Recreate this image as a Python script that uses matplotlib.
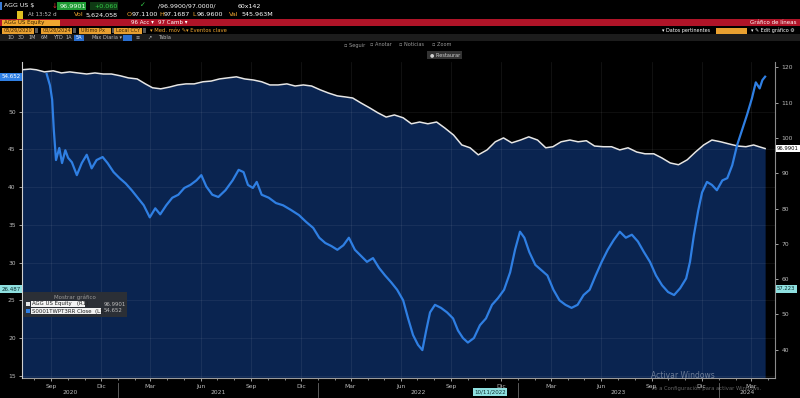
import matplotlib
matplotlib.use("Agg")
import matplotlib.pyplot as plt
import matplotlib.dates as mdates
from matplotlib.patches import Rectangle
from matplotlib.ticker import FuncFormatter
import pandas as pd

# AGG US Equity, right axis (R1)
agg_dates = [
    "2020-07-10", "2020-07-25", "2020-08-05", "2020-08-20", "2020-09-05", "2020-09-20",
    "2020-10-05", "2020-10-20", "2020-11-05", "2020-11-20", "2020-12-05", "2020-12-20",
    "2021-01-05", "2021-01-20", "2021-02-05", "2021-02-20", "2021-03-05", "2021-03-20",
    "2021-04-05", "2021-04-20", "2021-05-05", "2021-05-20", "2021-06-05", "2021-06-20",
    "2021-07-05", "2021-07-20", "2021-08-05", "2021-08-20", "2021-09-05", "2021-09-20",
    "2021-10-05", "2021-10-20", "2021-11-05", "2021-11-20", "2021-12-05", "2021-12-20",
    "2022-01-05", "2022-01-20", "2022-02-05", "2022-02-20", "2022-03-05", "2022-03-20",
    "2022-04-05", "2022-04-20", "2022-05-05", "2022-05-20", "2022-06-05", "2022-06-20",
    "2022-07-05", "2022-07-20", "2022-08-05", "2022-08-20", "2022-09-05", "2022-09-20",
    "2022-10-05", "2022-10-20", "2022-11-05", "2022-11-20", "2022-12-05", "2022-12-20",
    "2023-01-05", "2023-01-20", "2023-02-05", "2023-02-20", "2023-03-05", "2023-03-20",
    "2023-04-05", "2023-04-20", "2023-05-05", "2023-05-20", "2023-06-05", "2023-06-20",
    "2023-07-05", "2023-07-20", "2023-08-05", "2023-08-20", "2023-09-05", "2023-09-20",
    "2023-10-05", "2023-10-20", "2023-11-05", "2023-11-20", "2023-12-05", "2023-12-20",
    "2024-01-05", "2024-01-20", "2024-02-05", "2024-02-20", "2024-03-05", "2024-03-15",
    "2024-03-26",
]
agg_close = [
    119.3, 119.5, 119.3, 118.7, 119.0, 118.4,
    118.7, 118.4, 118.1, 118.4, 118.1, 118.1,
    117.6, 117.0, 116.7, 115.3, 114.2, 113.9,
    114.4, 115.0, 115.3, 115.3, 115.9, 116.1,
    116.7, 117.0, 117.3, 116.7, 116.4, 115.9,
    115.0, 115.0, 115.3, 114.7, 115.0, 114.7,
    113.6, 112.7, 111.9, 111.6, 111.3, 109.9,
    108.5, 107.1, 105.9, 106.5, 105.7, 104.0,
    104.5, 104.0, 104.5, 102.8, 100.8, 98.0,
    97.2, 95.2, 96.6, 98.9, 100.0, 98.6,
    99.4, 100.3, 99.4, 97.2, 97.5, 98.9,
    99.4, 98.9, 99.2, 97.7, 97.5, 97.5,
    96.6, 97.2, 96.0, 95.5, 95.5, 94.3,
    92.9, 92.4, 93.8, 96.0, 98.0, 99.4,
    98.9, 98.3, 97.7, 97.5, 98.0, 97.5,
    96.9901,
]

# Second series, left axis (L1)
l1_dates = [
    "2020-08-24", "2020-08-30", "2020-09-03", "2020-09-06", "2020-09-10", "2020-09-16",
    "2020-09-21", "2020-09-27", "2020-10-02", "2020-10-09", "2020-10-18", "2020-10-27",
    "2020-11-05", "2020-11-14", "2020-11-23", "2020-12-04", "2020-12-13", "2020-12-24",
    "2021-01-04", "2021-01-15", "2021-01-26", "2021-02-06", "2021-02-17", "2021-02-28",
    "2021-03-10", "2021-03-19", "2021-03-30", "2021-04-10", "2021-04-21", "2021-05-02",
    "2021-05-13", "2021-05-24", "2021-06-02", "2021-06-11", "2021-06-22", "2021-07-03",
    "2021-07-16", "2021-07-29", "2021-08-09", "2021-08-18", "2021-08-26", "2021-09-04",
    "2021-09-11", "2021-09-20", "2021-10-03", "2021-10-16", "2021-10-29", "2021-11-12",
    "2021-11-27", "2021-12-10", "2021-12-23", "2022-01-03", "2022-01-14", "2022-01-25",
    "2022-02-05", "2022-02-16", "2022-02-26", "2022-03-09", "2022-03-20", "2022-03-31",
    "2022-04-11", "2022-04-22", "2022-05-03", "2022-05-14", "2022-05-25", "2022-06-05",
    "2022-06-14", "2022-06-23", "2022-07-02", "2022-07-10", "2022-07-17", "2022-07-24",
    "2022-08-02", "2022-08-13", "2022-08-24", "2022-09-04", "2022-09-13", "2022-09-22",
    "2022-10-01", "2022-10-12", "2022-10-23", "2022-11-03", "2022-11-14", "2022-11-25",
    "2022-12-06", "2022-12-17", "2022-12-26", "2023-01-04", "2023-01-12", "2023-01-21",
    "2023-02-01", "2023-02-12", "2023-02-23", "2023-03-06", "2023-03-17", "2023-03-28",
    "2023-04-08", "2023-04-19", "2023-04-30", "2023-05-11", "2023-05-22", "2023-06-02",
    "2023-06-13", "2023-06-24", "2023-07-05", "2023-07-16", "2023-07-27", "2023-08-07",
    "2023-08-18", "2023-08-29", "2023-09-09", "2023-09-20", "2023-10-01", "2023-10-12",
    "2023-10-23", "2023-11-03", "2023-11-10", "2023-11-17", "2023-11-25", "2023-12-02",
    "2023-12-11", "2023-12-20", "2023-12-29", "2024-01-08", "2024-01-17", "2024-01-26",
    "2024-02-04", "2024-02-13", "2024-02-22", "2024-03-02", "2024-03-09", "2024-03-16",
    "2024-03-21", "2024-03-26",
]
l1_close = [
    55.0, 53.5, 51.6, 47.6, 43.6, 45.2,
    43.2, 44.9, 43.9, 43.3, 41.6, 43.2,
    44.3, 42.5, 43.6, 44.0, 43.2, 42.0,
    41.2, 40.5, 39.6, 38.6, 37.6, 36.0,
    37.2, 36.4, 37.6, 38.6, 39.0, 39.9,
    40.3, 40.9, 41.6, 40.1, 39.0, 38.7,
    39.6, 40.9, 42.3, 42.0, 40.3, 39.9,
    40.7, 39.0, 38.6, 37.9, 37.6, 37.0,
    36.3, 35.4, 34.6, 33.3, 32.6, 32.2,
    31.7, 32.3, 33.3, 31.7, 30.9, 30.1,
    30.6, 29.3, 28.3, 27.4, 26.4, 25.0,
    22.6, 20.4, 19.1, 18.4, 21.0, 23.4,
    24.4, 24.0, 23.4, 22.6, 21.0, 20.0,
    19.4, 20.0, 21.7, 22.6, 24.4, 25.3,
    26.4, 28.7, 31.7, 34.1, 33.3, 31.4,
    29.7, 29.0, 28.3, 26.4, 25.0, 24.4,
    24.0, 24.4, 25.7, 26.4, 28.3, 30.1,
    31.7, 33.0, 34.1, 33.3, 33.7, 32.8,
    31.4, 30.1, 28.3, 27.0, 26.1, 25.7,
    26.6, 27.9, 30.1, 33.6, 36.9, 39.3,
    40.7, 40.3, 39.6, 40.9, 41.2, 42.9,
    45.6, 47.6, 49.6, 51.8, 53.9, 53.1,
    54.2, 54.652,
]

left_ticks = [15, 20, 25, 30, 35, 40, 45, 50]
right_ticks = [40, 50, 60, 70, 80, 90, 100, 110, 120]
month_names = {3: "Mar", 6: "Jun", 9: "Sep", 12: "Dic"}
years = [2020, 2021, 2022, 2023, 2024]
cross_date = "2022-11-10"
cross_left = 26.487
cross_right = 57.223

BG = "black"
NAVY = "#0a2450"
BLUE = "#2f7fe3"
WHITE = "#e6e6e6"
TXT = "#bdbdbd"
ORANGE = "#f0a630"
CYAN = "#8fe0e0"

agg_x = pd.to_datetime(agg_dates)
l1_x = pd.to_datetime(l1_dates)
x_lo = pd.Timestamp("2020-07-10")
x_hi = pd.Timestamp("2024-04-13")
r_lo, r_hi = 32.0, 121.5
l_lo, l_hi = 14.7, 56.6

fig = plt.figure(figsize=(8, 3.98), dpi=100, facecolor=BG)


def fx(x):
    return x / 800


def fy(y):
    return 1 - y / 398


def rect(x0, y0, x1, y1, color):
    fig.add_artist(Rectangle((fx(x0), fy(y1)), (x1 - x0) / 800, (y1 - y0) / 398,
                             transform=fig.transFigure, fc=color, ec="none"))


def label(x, y, s, color=TXT, size=4.3, ha="left"):
    fig.text(fx(x), fy(y), s, color=color, fontsize=size, ha=ha, va="center")


# ---- main chart ----
ax = fig.add_axes([fx(22), fy(378), (775 - 22) / 800, (378 - 62) / 398])
ax.set_facecolor(BG)
ax2 = ax.twinx()

ax.fill_between(agg_x, agg_close, r_lo, color=NAVY, lw=0, zorder=1)
ax.plot(agg_x, agg_close, color=WHITE, lw=1.1, zorder=3)
ax2.plot(l1_x, l1_close, color=BLUE, lw=1.6, zorder=3)

ax.set_xlim(x_lo, x_hi)
ax.set_ylim(r_lo, r_hi)
ax2.set_ylim(l_lo, l_hi)

ax.yaxis.tick_right()
ax2.yaxis.tick_left()
ax.set_yticks(right_ticks)
ax2.set_yticks(left_ticks)

ax.xaxis.set_major_locator(mdates.MonthLocator(bymonth=(3, 6, 9, 12)))
ax.xaxis.set_minor_locator(mdates.MonthLocator())
ax.xaxis.set_major_formatter(FuncFormatter(lambda v, p: month_names[mdates.num2date(v).month]))

for a in (ax, ax2):
    a.tick_params(colors=TXT, labelsize=4.3, length=2.5, width=0.6, pad=2)
    a.spines["top"].set_visible(False)
ax.tick_params(axis="x", which="minor", colors=TXT, length=1.5, width=0.5)
ax.spines["left"].set_visible(False)
ax.spines["bottom"].set_color("#9a9a9a")
ax.spines["right"].set_color("#8a8a8a")
ax2.spines["right"].set_visible(False)
ax2.spines["bottom"].set_visible(False)
ax2.spines["left"].set_color("#cfcfcf")
for s in ("bottom", "right", "left"):
    ax.spines[s].set_linewidth(0.8)
    ax2.spines[s].set_linewidth(0.8)

ax.grid(axis="x", color="white", alpha=0.08, lw=0.6)
ax2.grid(axis="y", color="white", alpha=0.07, lw=0.6)

# year labels and separators below the month labels
xt = ax.get_xaxis_transform()
for yr in years:
    a = max(x_lo, pd.Timestamp(f"{yr}-01-01"))
    b = min(x_hi, pd.Timestamp(f"{yr}-12-31"))
    mid = a + (b - a) / 2
    ax.text(mid, -0.045, str(yr), transform=xt, color=TXT, fontsize=4.3,
            ha="center", va="center", clip_on=False)
    if pd.Timestamp(f"{yr}-01-01") > x_lo:
        ax.plot([pd.Timestamp(f"{yr}-01-01")] * 2, [-0.015, -0.06], transform=xt,
                color="#6a6a6a", lw=0.6, clip_on=False)

# last value tags
ax.annotate(f"{agg_close[-1]:.4f}", xy=(1, agg_close[-1]), xycoords=ax.get_yaxis_transform(),
            xytext=(1.5, 0), textcoords="offset points", fontsize=3.8, color="black",
            ha="left", va="center",
            bbox=dict(boxstyle="square,pad=0.2", fc="white", ec="none"))
ax2.annotate(f"{l1_close[-1]:.3f}", xy=(0, l1_close[-1]), xycoords=ax2.get_yaxis_transform(),
             xytext=(-1, 0), textcoords="offset points", fontsize=4.0, color="white",
             ha="right", va="center",
             bbox=dict(boxstyle="square,pad=0.25", fc=BLUE, ec="none"))

# crosshair tags
ax2.annotate(f"{cross_left:.3f}", xy=(0, cross_left), xycoords=ax2.get_yaxis_transform(),
             xytext=(-1, 0), textcoords="offset points", fontsize=4.0, color="#0d3030",
             ha="right", va="center",
             bbox=dict(boxstyle="square,pad=0.25", fc=CYAN, ec="none"))
ax.annotate(f"{cross_right:.3f}", xy=(1, cross_right), xycoords=ax.get_yaxis_transform(),
            xytext=(1.5, 0), textcoords="offset points", fontsize=3.8, color="#0d3030",
            ha="left", va="center",
            bbox=dict(boxstyle="square,pad=0.2", fc=CYAN, ec="none"))
ax.text(pd.Timestamp(cross_date), -0.045, "10/11/2022", transform=xt, fontsize=4.0,
        color="#0d3030", ha="center", va="center", clip_on=False,
        bbox=dict(boxstyle="square,pad=0.25", fc=CYAN, ec="none"))

# legend panel
rect(23, 292, 127, 317, "#2b2f36")
label(75, 297, "Mostrar gráfico", color="#9a9a9a", size=4.0, ha="center")
rect(26, 302, 30, 306, WHITE)
rect(31, 301, 85, 307, "#f2f2f2")
label(32, 304, "AGG US Equity   (R1)", color="#202020", size=3.9)
label(104, 304, f"{agg_close[-1]:.4f}", color=TXT, size=3.9)
rect(26, 309, 30, 313, BLUE)
rect(31, 308, 101, 314, "#f2f2f2")
label(32, 311, "S0001TWPT3RR Close  (L1)", color="#202020", size=3.9)
label(104, 311, f"{l1_close[-1]:.3f}", color=TXT, size=3.9)

# ---- terminal header ----
rect(0, 2, 2, 10, "#3a7bd5")
label(4, 6, "AGG US $", color="white", size=4.5)
label(52, 6, "↓", color="#e03030", size=5)
rect(57, 2, 86, 10, "#1f9b35")
label(60, 6, "96.9901", color="#eaffea", size=4.6)
rect(90, 2, 118, 10, "#0f3a14")
label(94, 6, "+0.060", color="#35d04a", size=4.6)
label(140, 5, "✓", color="#35d04a", size=5)
label(158, 6, "/96.9900/97.0000/", color="white", size=4.5)
label(238, 6, "60x142", color="white", size=4.5)

rect(17, 11, 23, 19, "#e0c020")
label(28, 15, "At 13:52 d", color=TXT, size=4.0)
for x, s, c in [(74, "Vol", ORANGE), (86, "5,624,058", "white"),
                (127, "O", ORANGE), (132, "97.1100", "white"),
                (159, "H", ORANGE), (164, "97.1687", "white"),
                (192, "L", ORANGE), (197, "96.9600", "white"),
                (229, "Val", ORANGE), (242, "545.963M", "white")]:
    label(x, 15, s, color=c, size=4.6)

rect(0, 19, 800, 26, "#b01428")
rect(2, 19.5, 60, 25.5, "#f0a630")
label(4, 22.5, "AGG US Equity", color="#3a2200", size=4.0)
label(131, 22.5, "96 Acc ▾", color="white", size=4.0)
label(158, 22.5, "97 Camb ▾", color="white", size=4.0)
label(796, 22.5, "Gráfico de líneas", color="white", size=4.0, ha="right")

for x0, x1, s in [(2, 34, "05/26/2020"), (41, 72, "03/26/2024"),
                  (79, 111, "Último Px"), (114, 142, "Local CCY")]:
    rect(x0, 27.5, x1, 33.5, "#e8a030")
    label(x0 + 2, 30.5, s, color="#3a2200", size=3.6)
    rect(x1 + 1, 28.5, x1 + 4, 32.5, "#555555")
label(150, 30.5, "▾ Med. móv ✎", color=ORANGE, size=3.8)
label(186, 30.5, "▾ Eventos clave", color=ORANGE, size=3.8)
label(662, 30.5, "▾ Datos pertinentes", color="white", size=3.5)
rect(716, 27.5, 747, 33.5, "#e8a030")
label(751, 30.5, "▾ ✎ Edit gráfico ⚙", color="white", size=3.5)

rect(0, 34, 800, 41, "#1c1c1c")
for x, s in [(7, "1D"), (18, "3D"), (29, "1M"), (41, "6M"), (53, "YTD"), (66, "1A"),
             (91, "Máx"), (103, "Diaria ▾"), (135, "≡"), (147, "↗"), (158, "Tabla")]:
    label(x, 37.5, s, color=TXT, size=3.6)
rect(74, 34.5, 84, 40.5, "#2a6fd0")
label(76, 37.5, "5A", color="white", size=3.6)
rect(123, 34.5, 132, 40.5, "#2a6fd0")

for x, s in [(344, "▫ Seguir"), (370, "▫ Anotar"), (399, "▫ Noticias"), (432, "▫ Zoom")]:
    label(x, 45, s, color="#9a9a9a", size=3.6)
rect(427, 51, 462, 59, "#333333")
label(430, 55, "● Restaurar", color="#cfcfcf", size=3.6)

# windows watermark
fig.text(fx(651), fy(376), "Activar Windows", color="white", alpha=0.4, fontsize=5.5,
         ha="left", va="center")
fig.text(fx(651), fy(388), "Ve a Configuración para activar Windows.", color="white",
         alpha=0.4, fontsize=3.8, ha="left", va="center")

fig.savefig("out.png", dpi=100, facecolor=BG)
plt.close(fig)
